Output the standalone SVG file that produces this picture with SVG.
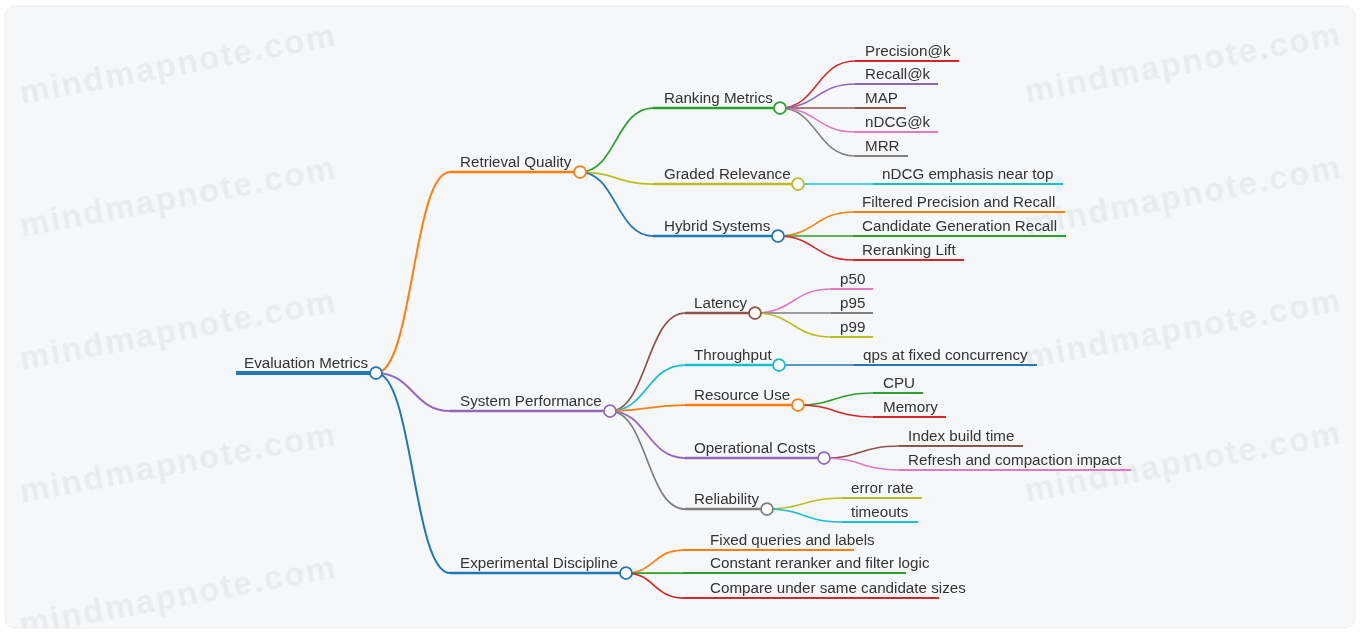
<svg xmlns="http://www.w3.org/2000/svg" width="1360" height="633" viewBox="0 0 1360 633">
<style>
text{font-family:"Liberation Sans",Arial,sans-serif;font-size:15.2px;fill:#333}
.wm{font-family:"Liberation Sans",Arial,sans-serif;font-size:33px;font-weight:bold;fill:#eaebee;letter-spacing:1.9px}
.lk{fill:none}
.c{fill:#fff;stroke-width:1.75}
</style>
<defs>
<clipPath id="panel"><rect x="5" y="6" width="1350" height="622" rx="10"/></clipPath>
<filter id="soft" x="-5%" y="-20%" width="110%" height="140%"><feGaussianBlur stdDeviation="0.5"/></filter>
</defs>
<rect x="0" y="0" width="1360" height="633" fill="#ffffff"/>
<rect x="5" y="6" width="1350" height="622" rx="10" fill="#f6f7f9" stroke="#eceef1"/>
<g id="watermarks" clip-path="url(#panel)" filter="url(#soft)">
<text class="wm" transform="translate(22,104) rotate(-10.5)">mindmapnote.com</text>
<text class="wm" transform="translate(22,237) rotate(-10.5)">mindmapnote.com</text>
<text class="wm" transform="translate(22,370) rotate(-10.5)">mindmapnote.com</text>
<text class="wm" transform="translate(22,503) rotate(-10.5)">mindmapnote.com</text>
<text class="wm" transform="translate(22,636) rotate(-10.5)">mindmapnote.com</text>
<text class="wm" transform="translate(1027,103) rotate(-10.5)">mindmapnote.com</text>
<text class="wm" transform="translate(1027,236) rotate(-10.5)">mindmapnote.com</text>
<text class="wm" transform="translate(1027,369) rotate(-10.5)">mindmapnote.com</text>
<text class="wm" transform="translate(1027,502) rotate(-10.5)">mindmapnote.com</text>
</g>
<g id="connectors">
<path class="lk" stroke="#ff7f0e" stroke-width="2" d="M376 373 C413 373,413 172,450 172"/>
<path class="lk" stroke="#9467bd" stroke-width="2" d="M376 373 C413 373,413 411,450 411"/>
<path class="lk" stroke="#1f77b4" stroke-width="2" d="M376 373 C413 373,413 573,450 573"/>
<path class="lk" stroke="#2ca02c" stroke-width="1.75" d="M580 172 C616 172,616 108,653 108"/>
<path class="lk" stroke="#bcbd22" stroke-width="1.75" d="M580 172 C616 172,616 184,653 184"/>
<path class="lk" stroke="#1f77b4" stroke-width="1.75" d="M580 172 C616 172,616 236,653 236"/>
<path class="lk" stroke="#8c564b" stroke-width="1.75" d="M610 411 C647 411,647 313,685 313"/>
<path class="lk" stroke="#17becf" stroke-width="1.75" d="M610 411 C647 411,647 365,685 365"/>
<path class="lk" stroke="#ff7f0e" stroke-width="1.75" d="M610 411 C647 411,647 405,685 405"/>
<path class="lk" stroke="#9467bd" stroke-width="1.75" d="M610 411 C647 411,647 458,685 458"/>
<path class="lk" stroke="#7f7f7f" stroke-width="1.75" d="M610 411 C647 411,647 509,685 509"/>
<path class="lk" stroke="#ff7f0e" stroke-width="1.75" d="M626 573 C654 573,654 550,683 550"/>
<path class="lk" stroke="#2ca02c" stroke-width="1.75" d="M626 573 C654 573,654 573,683 573"/>
<path class="lk" stroke="#d62728" stroke-width="1.75" d="M626 573 C654 573,654 598,683 598"/>
<path class="lk" stroke="#d62728" stroke-width="1.5" d="M780 108 C817 108,817 61,855 61"/>
<path class="lk" stroke="#9467bd" stroke-width="1.5" d="M780 108 C817 108,817 84,855 84"/>
<path class="lk" stroke="#8c564b" stroke-width="1.5" d="M780 108 C817 108,817 108,855 108"/>
<path class="lk" stroke="#e377c2" stroke-width="1.5" d="M780 108 C817 108,817 132,855 132"/>
<path class="lk" stroke="#7f7f7f" stroke-width="1.5" d="M780 108 C817 108,817 156,855 156"/>
<path class="lk" stroke="#17becf" stroke-width="1.5" d="M798 184 C835 184,835 184,873 184"/>
<path class="lk" stroke="#ff7f0e" stroke-width="1.5" d="M778 236 C815 236,815 212,853 212"/>
<path class="lk" stroke="#2ca02c" stroke-width="1.5" d="M778 236 C815 236,815 236,853 236"/>
<path class="lk" stroke="#d62728" stroke-width="1.5" d="M778 236 C815 236,815 260,853 260"/>
<path class="lk" stroke="#e377c2" stroke-width="1.5" d="M755 313 C793 313,793 289,831 289"/>
<path class="lk" stroke="#7f7f7f" stroke-width="1.5" d="M755 313 C793 313,793 313,831 313"/>
<path class="lk" stroke="#bcbd22" stroke-width="1.5" d="M755 313 C793 313,793 337,831 337"/>
<path class="lk" stroke="#1f77b4" stroke-width="1.5" d="M779 365 C816 365,816 365,854 365"/>
<path class="lk" stroke="#2ca02c" stroke-width="1.5" d="M798 405 C835 405,835 393,873 393"/>
<path class="lk" stroke="#d62728" stroke-width="1.5" d="M798 405 C835 405,835 417,873 417"/>
<path class="lk" stroke="#8c564b" stroke-width="1.5" d="M824 458 C861 458,861 446,899 446"/>
<path class="lk" stroke="#e377c2" stroke-width="1.5" d="M824 458 C861 458,861 470,899 470"/>
<path class="lk" stroke="#bcbd22" stroke-width="1.5" d="M767 509 C804 509,804 498,842 498"/>
<path class="lk" stroke="#17becf" stroke-width="1.5" d="M767 509 C804 509,804 522,842 522"/>
</g>
<g id="n-root"><line x1="236" y1="373" x2="376" y2="373" stroke="#1f77b4" stroke-width="4"/><text x="244" y="368">Evaluation Metrics</text><circle class="c" cx="376" cy="373" r="6" stroke="#1f77b4"/></g>
<g id="n-rq"><line x1="450" y1="172" x2="580" y2="172" stroke="#ff7f0e" stroke-width="2.5"/><text x="460" y="167">Retrieval Quality</text><circle class="c" cx="580" cy="172" r="6" stroke="#ff7f0e"/></g>
<g id="n-sp"><line x1="450" y1="411" x2="610" y2="411" stroke="#9467bd" stroke-width="2.5"/><text x="460" y="406">System Performance</text><circle class="c" cx="610" cy="411" r="6" stroke="#9467bd"/></g>
<g id="n-ed"><line x1="450" y1="573" x2="626" y2="573" stroke="#1f77b4" stroke-width="2.5"/><text x="460" y="568">Experimental Discipline</text><circle class="c" cx="626" cy="573" r="6" stroke="#1f77b4"/></g>
<g id="n-rm"><line x1="653" y1="108" x2="780" y2="108" stroke="#2ca02c" stroke-width="2.5"/><text x="664" y="103">Ranking Metrics</text><circle class="c" cx="780" cy="108" r="6" stroke="#2ca02c"/></g>
<g id="n-gr"><line x1="653" y1="184" x2="798" y2="184" stroke="#bcbd22" stroke-width="2.5"/><text x="664" y="179">Graded Relevance</text><circle class="c" cx="798" cy="184" r="6" stroke="#bcbd22"/></g>
<g id="n-hs"><line x1="653" y1="236" x2="778" y2="236" stroke="#1f77b4" stroke-width="2.5"/><text x="664" y="231">Hybrid Systems</text><circle class="c" cx="778" cy="236" r="6" stroke="#1f77b4"/></g>
<g id="n-lat"><line x1="685" y1="313" x2="755" y2="313" stroke="#8c564b" stroke-width="2.5"/><text x="694" y="308">Latency</text><circle class="c" cx="755" cy="313" r="6" stroke="#8c564b"/></g>
<g id="n-thr"><line x1="685" y1="365" x2="779" y2="365" stroke="#17becf" stroke-width="2.5"/><text x="694" y="360">Throughput</text><circle class="c" cx="779" cy="365" r="6" stroke="#17becf"/></g>
<g id="n-res"><line x1="685" y1="405" x2="798" y2="405" stroke="#ff7f0e" stroke-width="2.5"/><text x="694" y="400">Resource Use</text><circle class="c" cx="798" cy="405" r="6" stroke="#ff7f0e"/></g>
<g id="n-op"><line x1="685" y1="458" x2="824" y2="458" stroke="#9467bd" stroke-width="2.5"/><text x="694" y="453">Operational Costs</text><circle class="c" cx="824" cy="458" r="6" stroke="#9467bd"/></g>
<g id="n-rel"><line x1="685" y1="509" x2="767" y2="509" stroke="#7f7f7f" stroke-width="2.5"/><text x="694" y="504">Reliability</text><circle class="c" cx="767" cy="509" r="6" stroke="#7f7f7f"/></g>
<g id="n-fq"><line x1="683" y1="550" x2="854" y2="550" stroke="#ff7f0e" stroke-width="2"/><text x="710" y="545">Fixed queries and labels</text></g>
<g id="n-cr"><line x1="683" y1="573" x2="906" y2="573" stroke="#2ca02c" stroke-width="2"/><text x="710" y="568">Constant reranker and filter logic</text></g>
<g id="n-cu"><line x1="683" y1="598" x2="939" y2="598" stroke="#d62728" stroke-width="2"/><text x="710" y="593">Compare under same candidate sizes</text></g>
<g id="n-pk"><line x1="855" y1="61" x2="959" y2="61" stroke="#d62728" stroke-width="2"/><text x="865" y="56">Precision@k</text></g>
<g id="n-rk"><line x1="855" y1="84" x2="938" y2="84" stroke="#9467bd" stroke-width="2"/><text x="865" y="79">Recall@k</text></g>
<g id="n-map"><line x1="855" y1="108" x2="906" y2="108" stroke="#8c564b" stroke-width="2"/><text x="865" y="103">MAP</text></g>
<g id="n-nd"><line x1="855" y1="132" x2="938" y2="132" stroke="#e377c2" stroke-width="2"/><text x="865" y="127">nDCG@k</text></g>
<g id="n-mrr"><line x1="855" y1="156" x2="908" y2="156" stroke="#7f7f7f" stroke-width="2"/><text x="865" y="151">MRR</text></g>
<g id="n-ne"><line x1="873" y1="184" x2="1063" y2="184" stroke="#17becf" stroke-width="2"/><text x="882" y="179">nDCG emphasis near top</text></g>
<g id="n-fp"><line x1="853" y1="212" x2="1065" y2="212" stroke="#ff7f0e" stroke-width="2"/><text x="862" y="207">Filtered Precision and Recall</text></g>
<g id="n-cg"><line x1="853" y1="236" x2="1066" y2="236" stroke="#2ca02c" stroke-width="2"/><text x="862" y="231">Candidate Generation Recall</text></g>
<g id="n-rl"><line x1="853" y1="260" x2="964" y2="260" stroke="#d62728" stroke-width="2"/><text x="862" y="255">Reranking Lift</text></g>
<g id="n-p50"><line x1="831" y1="289" x2="873" y2="289" stroke="#e377c2" stroke-width="2"/><text x="840" y="284">p50</text></g>
<g id="n-p95"><line x1="831" y1="313" x2="873" y2="313" stroke="#7f7f7f" stroke-width="2"/><text x="840" y="308">p95</text></g>
<g id="n-p99"><line x1="831" y1="337" x2="873" y2="337" stroke="#bcbd22" stroke-width="2"/><text x="840" y="332">p99</text></g>
<g id="n-qps"><line x1="854" y1="365" x2="1037" y2="365" stroke="#1f77b4" stroke-width="2"/><text x="863" y="360">qps at fixed concurrency</text></g>
<g id="n-cpu"><line x1="873" y1="393" x2="923" y2="393" stroke="#2ca02c" stroke-width="2"/><text x="883" y="388">CPU</text></g>
<g id="n-mem"><line x1="873" y1="417" x2="946" y2="417" stroke="#d62728" stroke-width="2"/><text x="883" y="412">Memory</text></g>
<g id="n-ibt"><line x1="899" y1="446" x2="1023" y2="446" stroke="#8c564b" stroke-width="2"/><text x="908" y="441">Index build time</text></g>
<g id="n-rci"><line x1="899" y1="470" x2="1131" y2="470" stroke="#e377c2" stroke-width="2"/><text x="908" y="465">Refresh and compaction impact</text></g>
<g id="n-er"><line x1="842" y1="498" x2="922" y2="498" stroke="#bcbd22" stroke-width="2"/><text x="851" y="493">error rate</text></g>
<g id="n-to"><line x1="842" y1="522" x2="918" y2="522" stroke="#17becf" stroke-width="2"/><text x="851" y="517">timeouts</text></g>
</svg>
